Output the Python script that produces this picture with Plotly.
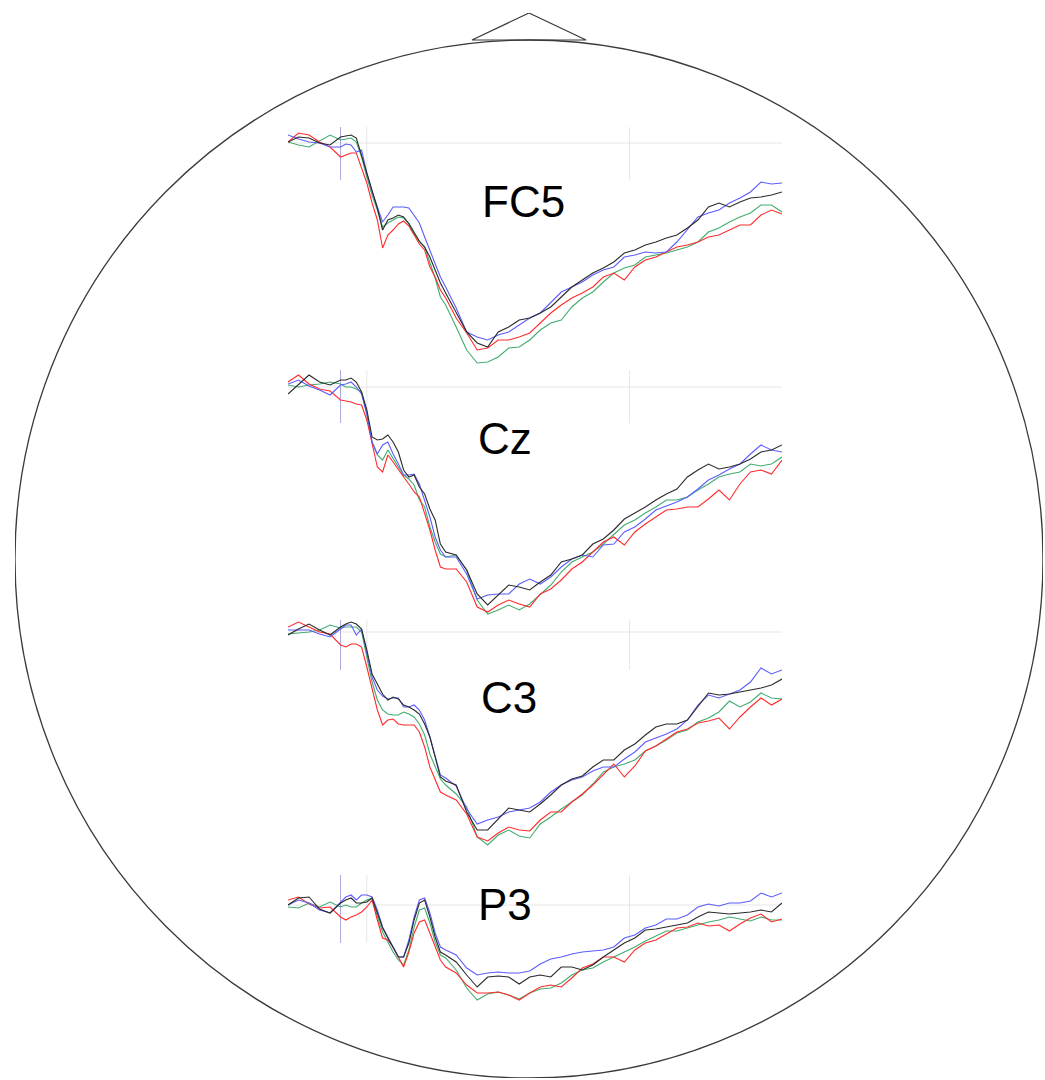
import plotly.graph_objects as go

# Time axis (ms): 20 ms steps, 10 ms steps through the early components
times = [-100, -80, -60, -40, -20] + list(range(0, 200, 10)) + list(range(200, 841, 20))

channels = ["FC5", "Cz", "C3", "P3"]

# Grand-average ERPs (µV), one list per condition
fc5_blue = [0.8, 0.4, 0.1, 0.0, -0.4,
            -0.4, -0.1, -0.2, -0.9, -0.7, -3.0, -4.9, -6.4, -7.9, -7.2, -6.4, -6.4, -6.4, -6.5, -7.2, -8.0,
            -9.4, -10.7, -12.0, -13.4,
            -14.4, -16.5, -18.9, -19.4, -19.7, -19.2, -18.9, -18.2, -17.5, -17.0, -15.9, -14.9, -14.4, -13.9,
            -13.2, -12.7, -12.4, -11.4, -11.2, -10.9, -11.0, -10.9, -9.9, -8.7, -7.4, -7.0, -6.7, -6.0, -5.5,
            -4.9, -3.9, -4.1, -4.0]
fc5_black = [0.1, 0.6, 0.5, 0.0, -0.2,
             0.6, 0.7, 0.8, 0.5, -1.2, -3.0, -4.7, -6.5, -8.7, -7.7, -7.5, -7.2, -7.4, -8.1, -9.0, -9.8,
             -10.4, -11.4, -12.7, -14.0,
             -15.0, -16.9, -18.9, -20.0, -20.4, -18.9, -18.4, -17.7, -17.5, -17.0, -16.4, -15.4, -14.4, -13.7,
             -13.0, -12.5, -11.9, -11.0, -10.7, -10.2, -9.9, -9.5, -9.2, -8.5, -7.7, -6.4, -6.0, -6.4, -5.9,
             -5.5, -5.4, -5.2, -4.9]
fc5_green = [0.1, -0.2, -0.4, 0.2, 0.8,
             0.3, 0.4, 0.5, 0.1, -1.4, -3.4, -5.2, -6.7, -8.4, -8.0, -7.7, -7.4, -7.5, -8.0, -8.9, -9.9,
             -10.4, -12.0, -13.5, -15.4,
             -16.2, -18.4, -20.7, -22.0, -21.9, -21.4, -20.5, -20.4, -19.7, -18.7, -18.0, -17.7, -16.4, -15.5,
             -14.9, -13.9, -13.0, -12.5, -12.2, -11.4, -11.2, -11.0, -10.7, -10.4, -9.9, -8.9, -8.5, -7.9, -7.4,
             -7.0, -6.2, -6.2, -6.9]
fc5_red = [0.1, 1.0, 0.8, 0.1, -0.4,
           -1.4, -1.2, -1.0, -1.0, -2.4, -4.0, -6.0, -7.7, -10.5, -9.2, -8.7, -8.1, -7.8, -8.3, -9.2, -10.1,
           -10.7, -12.4, -13.4, -14.7,
           -15.5, -17.5, -19.0, -20.7, -20.5, -19.7, -19.7, -19.4, -19.0, -18.0, -17.0, -16.2, -15.5, -15.0,
           -14.4, -13.4, -13.0, -13.7, -12.4, -11.7, -11.4, -10.9, -10.4, -10.2, -9.9, -9.4, -9.2, -8.7, -8.2,
           -8.2, -7.2, -6.7, -7.1]

cz_blue = [0.3, 0.7, 0.1, -0.3, -0.8,
           0.2, 0.3, 0.5, 0.0, -0.7, -2.7, -5.5, -6.7, -5.8, -5.5, -6.7, -7.7, -8.8, -8.8, -8.7, -9.7,
           -11.3, -13.0, -15.0, -16.3,
           -17.0, -17.0, -18.7, -21.2, -20.8, -20.7, -20.7, -19.7, -19.2, -19.7, -19.0, -18.0, -17.2, -16.8,
           -17.0, -15.8, -15.7, -14.5, -14.0, -13.2, -12.3, -11.9, -11.5, -11.0, -10.2, -9.3, -8.8, -8.2, -7.7,
           -6.7, -5.8, -6.3, -6.5]
cz_black = [-0.7, 0.3, 1.2, 0.5, 0.2,
            0.7, 0.7, 0.9, 0.5, -0.5, -2.3, -5.0, -5.3, -5.2, -4.8, -5.5, -6.5, -8.3, -9.0, -8.8, -10.0,
            -10.7, -12.2, -13.3, -15.7,
            -16.5, -16.8, -18.3, -20.7, -21.8, -20.8, -19.8, -20.0, -20.3, -19.5, -18.8, -17.5, -17.2, -16.8,
            -15.7, -15.2, -14.3, -13.2, -12.6, -12.0, -11.3, -10.7, -10.2, -9.0, -8.3, -7.7, -8.2, -8.0, -7.7,
            -7.2, -6.5, -6.3, -5.8]
cz_green = [0.2, 0.0, 0.2, 0.3, 0.5,
            0.3, 0.0, 0.0, -0.2, -0.5, -2.7, -5.5, -6.8, -7.3, -6.3, -7.2, -8.0, -8.8, -9.2, -9.8, -11.3,
            -12.0, -14.0, -15.5, -16.7,
            -17.0, -16.8, -18.3, -21.3, -22.7, -22.3, -21.8, -22.3, -21.7, -20.7, -19.8, -18.5, -17.5, -17.0,
            -16.5, -15.7, -14.7, -13.8, -13.3, -12.6, -12.0, -11.3, -11.3, -11.0, -10.3, -9.7, -9.0, -8.7, -8.5,
            -7.7, -7.9, -7.7, -7.0]
cz_red = [0.5, 1.2, 0.3, -0.2, -0.4,
          -1.3, -1.4, -1.5, -1.7, -1.8, -3.3, -5.8, -8.0, -8.5, -6.8, -7.5, -8.3, -9.0, -9.7, -10.5, -11.0,
          -12.7, -14.3, -16.3, -18.0,
          -18.2, -18.2, -19.5, -22.0, -22.5, -21.8, -21.3, -21.7, -22.0, -20.7, -20.2, -19.3, -18.2, -17.5,
          -16.5, -15.5, -15.0, -15.8, -14.5, -13.7, -13.0, -12.3, -12.2, -12.0, -12.0, -11.2, -10.3, -11.3,
          -9.7, -8.5, -8.3, -8.7, -7.3]

c3_blue = [0.2, 0.2, 0.2, -0.2, -0.5,
           0.3, 0.7, 0.7, -0.3, 0.3, -2.2, -4.5, -5.8, -6.4, -6.7, -6.6, -6.6, -7.5, -7.5, -7.3, -7.8,
           -8.8, -10.5, -12.5, -14.3,
           -14.6, -15.4, -17.7, -19.2, -18.8, -18.5, -18.0, -17.8, -17.6, -17.0, -16.0, -15.3, -14.8, -14.5,
           -13.9, -13.5, -13.5, -12.7, -12.0, -11.0, -10.6, -10.2, -9.7, -8.8, -7.3, -6.3, -6.6, -6.2, -5.8,
           -5.0, -3.6, -4.2, -3.8]
c3_black = [-0.3, 0.3, 0.8, 0.2, -0.3,
            0.5, 0.8, 1.0, 0.8, 0.3, -1.8, -4.2, -5.2, -6.2, -6.8, -6.5, -6.7, -7.3, -7.5, -7.8, -8.2,
            -9.2, -10.5, -12.5, -14.5,
            -14.9, -15.3, -18.0, -19.8, -19.8, -18.7, -17.6, -17.8, -18.0, -17.2, -16.3, -15.3, -14.7, -14.4,
            -13.5, -12.8, -12.8, -11.8, -11.2, -10.3, -9.5, -9.2, -9.2, -8.8, -7.5, -6.1, -6.3, -6.2, -6.0,
            -5.8, -5.6, -5.3, -4.7]
c3_green = [-0.2, -0.1, 0.0, 0.2, 0.7,
            0.4, 0.5, 0.5, 0.5, 0.0, -2.5, -5.0, -6.8, -7.8, -8.2, -8.3, -8.3, -8.0, -8.2, -8.5, -9.2,
            -10.3, -12.2, -13.5, -14.7,
            -15.3, -16.2, -17.5, -20.5, -21.3, -20.3, -19.8, -20.4, -20.6, -19.2, -18.5, -17.7, -17.0, -16.3,
            -15.2, -14.0, -13.5, -13.2, -12.8, -11.9, -11.4, -10.8, -10.1, -9.8, -9.0, -8.6, -8.0, -6.9, -7.5,
            -7.0, -6.1, -6.6, -6.7]
c3_red = [0.5, 1.0, 0.5, 0.0, -0.2,
          -1.3, -1.5, -1.2, -1.2, -1.5, -3.5, -5.8, -7.8, -9.3, -8.8, -8.7, -9.2, -9.3, -9.3, -9.3, -10.0,
          -11.5, -13.5, -14.8, -16.0,
          -16.3, -16.8, -18.2, -20.5, -20.9, -20.1, -19.5, -19.8, -19.9, -18.8, -18.0, -18.0, -17.0, -16.2,
          -15.3, -14.2, -13.2, -14.5, -13.4, -11.9, -11.4, -10.7, -10.0, -9.7, -9.1, -8.9, -8.6, -9.7, -8.5,
          -7.5, -6.6, -7.3, -6.7]

p3_blue = [0.0, 0.5, 0.2, -0.5, -0.8,
           0.3, 0.8, 1.0, 0.5, 1.0, 1.0, 0.8, -0.5, -2.2, -3.2, -4.2, -5.2, -5.2, -3.5, -1.2, 0.5,
           0.7, -0.8, -2.8, -4.2,
           -4.5, -5.0, -6.3, -7.0, -6.8, -6.7, -6.8, -6.8, -6.6, -5.9, -5.4, -5.2, -4.9, -4.7,
           -4.6, -4.5, -4.2, -3.3, -3.0, -2.3, -2.0, -1.4, -1.4, -1.0, -0.2, 0.1, -0.1, 0.2, 0.2,
           0.4, 1.2, 0.8, 1.2]
p3_black = [0.0, 0.7, 0.8, -0.4, -0.8,
            0.2, 0.5, 0.7, 0.2, 0.2, 0.3, 0.7, -0.8, -2.3, -3.3, -4.3, -5.2, -5.2, -3.8, -1.5, 0.2,
            0.5, -1.2, -3.2, -4.7,
            -5.0, -5.7, -7.0, -8.2, -7.2, -7.1, -7.2, -7.9, -7.2, -7.0, -7.2, -6.2, -6.2, -6.5,
            -6.0, -5.2, -4.5, -3.8, -3.3, -2.5, -2.4, -2.2, -2.0, -1.8, -1.2, -0.7, -0.8, -0.9, -0.8,
            -0.7, -0.5, -0.7, 0.2]
p3_green = [-0.2, -0.3, 0.2, -0.2, 0.3,
            -0.2, 0.0, -0.2, -0.2, 0.2, 0.5, 0.7, -1.2, -2.7, -3.7, -4.7, -5.5, -6.0, -4.5, -2.2, -0.5,
            -0.3, -1.8, -3.7, -5.0,
            -5.3, -6.5, -8.3, -9.5, -8.9, -8.7, -9.0, -9.4, -8.8, -8.4, -8.3, -7.8, -7.0, -6.5,
            -6.3, -5.7, -5.2, -4.7, -4.2, -3.6, -3.1, -2.6, -2.6, -2.3, -2.0, -1.7, -1.5, -1.2, -1.4,
            -1.6, -1.2, -1.5, -1.5]
p3_red = [0.5, 0.8, 0.1, -0.3, -0.2,
          -1.2, -1.5, -1.2, -1.0, -0.7, -0.2, 0.5, -1.5, -3.3, -3.5, -4.2, -5.2, -6.2, -4.7, -2.8, -1.7,
          -1.5, -2.8, -4.2, -5.5,
          -6.2, -6.8, -8.0, -8.8, -8.8, -8.7, -9.0, -9.5, -8.8, -8.2, -8.0, -8.2, -7.3, -6.3,
          -5.9, -5.2, -5.2, -5.7, -4.5, -3.8, -3.5, -2.9, -2.3, -2.2, -1.8, -2.1, -2.0, -2.6, -1.9,
          -1.3, -0.9, -1.7, -1.4]

waves = {
    "FC5": {"blue": fc5_blue, "green": fc5_green, "red": fc5_red, "black": fc5_black},
    "Cz": {"blue": cz_blue, "green": cz_green, "red": cz_red, "black": cz_black},
    "C3": {"blue": c3_blue, "green": c3_green, "red": c3_red, "black": c3_black},
    "P3": {"blue": p3_blue, "green": p3_green, "red": p3_red, "black": p3_black},
}
for ch in channels:
    for cond, vals in waves[ch].items():
        assert len(vals) == len(times), (ch, cond, len(vals), len(times))

# Reference markers on the time axis (ms)
onset_ms = 0
grid_ms = [50, 550]

W, H = 1045, 1080
colors = {"blue": "#5c5cff", "green": "#40ad6f", "red": "#ff2b2b", "black": "#2a2a2a"}

# Panel placement (pixels): baseline row of each channel, label centre, marker extent (µV)
panel_base = {"FC5": 143, "Cz": 387, "C3": 632, "P3": 905}
panel_below = {"FC5": 232, "Cz": 232, "C3": 232, "P3": 160}
marker_span = {"FC5": (-3.7, 1.6), "Cz": (-3.6, 1.7), "C3": (-3.8, 1.2), "P3": (-3.8, 3.2)}
label_pos = {"FC5": (523, 202), "Cz": (505, 438), "C3": (509, 697), "P3": (505, 904)}
PX_PER_UV = 10.0
X_LEFT, X_RIGHT = 288, 782

fig = go.Figure()
layout = dict(
    width=W, height=H, margin=dict(l=0, r=0, t=0, b=0),
    paper_bgcolor="white", plot_bgcolor="rgba(0,0,0,0)",
    showlegend=False,
    xaxis=dict(domain=[X_LEFT / W, X_RIGHT / W], range=[times[0], times[-1]],
               visible=False, fixedrange=True),
)

shapes = []
annotations = []

# Scalp outline (unit circle) and nose on a dedicated head axis
HEAD_L, HEAD_R, HEAD_T, HEAD_B = 15, 1043, 40, 1078
nose_top = 1.052
head_px_per_unit = (HEAD_B - HEAD_T) / 2
layout["xaxis5"] = dict(domain=[HEAD_L / W, HEAD_R / W], range=[-1, 1], visible=False, anchor="y5")
layout["yaxis5"] = dict(domain=[1 - HEAD_B / H, 1 - (HEAD_T - (nose_top - 1) * head_px_per_unit) / H],
                        range=[-1, nose_top], visible=False, anchor="x5")
shapes.append(dict(type="circle", xref="x5", yref="y5", x0=-1, x1=1, y0=-1, y1=1,
                   line=dict(color="#3a3a3a", width=1.3), layer="below"))
nose_x = [-0.111, 0.0, 0.111, -0.111]
nose_y = [1.0, nose_top, 1.0, 1.0]
fig.add_trace(go.Scatter(x=nose_x, y=nose_y, xaxis="x5", yaxis="y5", mode="lines",
                         line=dict(color="#3a3a3a", width=1.2), hoverinfo="skip"))

for k, ch in enumerate(channels):
    ax = "y" if k == 0 else f"y{k + 1}"
    key = "yaxis" if k == 0 else f"yaxis{k + 1}"
    base = panel_base[ch]
    top_px, bot_px = base - 30, base + panel_below[ch]
    layout[key] = dict(
        domain=[1 - bot_px / H, 1 - top_px / H],
        range=[-(bot_px - base) / PX_PER_UV, (base - top_px) / PX_PER_UV],
        visible=False, anchor="x", fixedrange=True,
    )
    lo, hi = marker_span[ch]
    # Baseline and time markers
    shapes.append(dict(type="line", xref="x", yref=ax, x0=times[0], x1=times[-1], y0=0, y1=0,
                       line=dict(color="#e6e6e6", width=1), layer="below"))
    for g in grid_ms:
        shapes.append(dict(type="line", xref="x", yref=ax, x0=g, x1=g, y0=lo, y1=hi,
                           line=dict(color="#e6e6e6", width=1), layer="below"))
    shapes.append(dict(type="line", xref="x", yref=ax, x0=onset_ms, x1=onset_ms, y0=lo, y1=hi,
                       line=dict(color="#a9a9e0", width=1), layer="below"))

    for cond in ["green", "red", "blue", "black"]:
        fig.add_trace(go.Scatter(
            x=times, y=waves[ch][cond], xaxis="x", yaxis=ax, mode="lines",
            line=dict(color=colors[cond], width=1.1), hoverinfo="skip",
        ))

    lx, ly = label_pos[ch]
    annotations.append(dict(x=lx / W, y=1 - ly / H, xref="paper", yref="paper", text=ch,
                            showarrow=False, xanchor="center", yanchor="middle",
                            font=dict(family="Liberation Sans, Arial, sans-serif", size=44,
                                      color="black")))

layout["shapes"] = shapes
layout["annotations"] = annotations
fig.update_layout(**layout)
fig.write_html("out.html")
